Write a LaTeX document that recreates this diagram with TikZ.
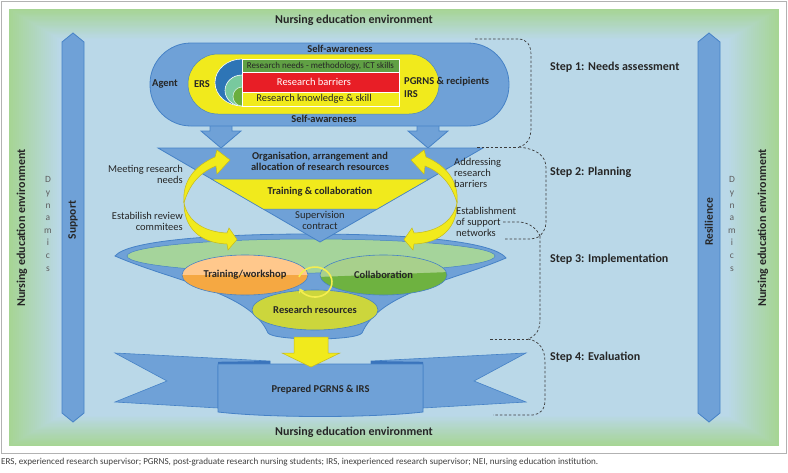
\documentclass[tikz,border=0pt]{standalone}
\usepackage{fontspec}
\setmainfont{Carlito}
\usetikzlibrary{arrows.meta}
\definecolor{bgG}{RGB}{166,213,148}
\definecolor{bgB}{RGB}{186,216,232}
\definecolor{midB}{RGB}{111,161,215}
\definecolor{edgeB}{RGB}{70,130,198}
\definecolor{darkB}{RGB}{58,116,188}
\definecolor{yel}{RGB}{241,234,28}
\definecolor{yelE}{RGB}{196,186,30}
\definecolor{cycY}{RGB}{244,238,80}
\definecolor{ersB}{RGB}{46,117,182}
\definecolor{mint}{RGB}{120,201,158}
\definecolor{dgreen}{RGB}{106,174,62}
\definecolor{barG}{RGB}{96,160,68}
\definecolor{barR}{RGB}{232,30,38}
\definecolor{funG}{RGB}{165,212,155}
\definecolor{orL}{RGB}{255,200,140}
\definecolor{orD}{RGB}{245,168,66}
\definecolor{grL}{RGB}{168,208,140}
\definecolor{grD}{RGB}{110,178,64}
\definecolor{resY}{RGB}{204,214,60}
\definecolor{txt}{RGB}{38,38,38}
\definecolor{dynG}{RGB}{95,95,95}
\definecolor{dashC}{RGB}{60,60,60}
\begin{document}
\begin{tikzpicture}[x=1pt,y=-1pt,
 blue shape/.style={fill=midB,draw=edgeB,line width=0.8pt},
 yarrow/.style={fill=yel,draw=yelE,line width=0.5pt},
 lbl/.style={text=txt,font=\fontsize{10.5}{11}\selectfont,inner sep=0pt},
 blbl/.style={text=txt,font=\bfseries\fontsize{10.5}{11.5}\selectfont,inner sep=0pt},
 sidelbl/.style={text=txt,font=\bfseries\fontsize{11.5}{13}\selectfont,inner sep=0pt,rotate=90},
 steplbl/.style={text=txt,font=\bfseries\fontsize{12}{14}\selectfont,anchor=west,inner sep=0pt},
 envlbl/.style={text=txt,font=\bfseries\fontsize{12}{14}\selectfont,inner sep=0pt},
 brace/.style={draw=dashC,line width=0.7pt,dash pattern=on 2.5pt off 2pt},
 dyn/.style={text=dynG,font=\fontsize{9.5}{12.6}\selectfont,align=center,inner sep=0pt},
]
\useasboundingbox (0,0) rectangle (788,472);
\fill[white] (0,0) rectangle (788,472);
\draw[gray!60,line width=0.8pt] (1,1) rectangle (786,453);
% background gradient
\foreach \i in {0,...,25}{
  \pgfmathsetmacro\L{9+\i*2.0}
  \pgfmathsetmacro\T{9+\i*1.2}
  \pgfmathsetmacro\R{779-\i*2.0}
  \pgfmathsetmacro\B{446-\i*1.2}
  \pgfmathtruncatemacro\P{100-\i*4}
  \fill[bgG!\P!bgB] (\L,\T) rectangle (\R,\B);
}
% environment labels
\node[envlbl] (envT) at (354,20) {Nursing education environment};
\node[envlbl] (envB) at (354,432) {Nursing education environment};
\node[envlbl,rotate=90] (envL) at (22,228) {Nursing education environment};
\node[envlbl,rotate=90] (envR) at (763,228) {Nursing education environment};
% side double arrows
\filldraw[blue shape] (62,42) -- (73,33) -- (84,42) -- (84,413) -- (73,422) -- (62,413) -- cycle;
\filldraw[blue shape] (698,42) -- (709,33) -- (720,42) -- (720,413) -- (709,422) -- (698,413) -- cycle;
\node[sidelbl] (sup) at (73,220) {Support};
\node[sidelbl] (res) at (709,222) {Resilience};
\node[dyn] (dynL) at (48,224) {D\\y\\n\\a\\m\\i\\c\\s};
\node[dyn] (dynR) at (732,224) {D\\y\\n\\a\\m\\i\\c\\s};
% down arrows from agent oval
\filldraw[blue shape] (210,118) -- (232,118) -- (232,131) -- (241,131) -- (221,148) -- (201,131) -- (210,131) -- cycle;
\filldraw[blue shape] (417,118) -- (439,118) -- (439,131) -- (448,131) -- (428,148) -- (408,131) -- (417,131) -- cycle;
% agent oval
\filldraw[blue shape,rounded corners=41pt] (150,43) rectangle (509,126);
\filldraw[fill=yel,draw=edgeB,line width=0.5pt,rounded corners=30pt] (188,54) rectangle (439,114);
\begin{scope}
  \clip (180,50) rectangle (242,110);
  \filldraw[fill=ersB,draw=white,line width=0.6pt] (242,82.5) ellipse[x radius=27,y radius=23.5];
  \filldraw[fill=mint,draw=white,line width=0.6pt] (242,90.5) ellipse[x radius=17,y radius=15.5];
  \filldraw[fill=dgreen,draw=white!70!mint,line width=0.6pt] (242,96.5) ellipse[x radius=9,y radius=9.5];
\end{scope}
\fill[barG] (242,59) rectangle (399,72.3);
\fill[barR] (242,72.3) rectangle (399,92.3);
\draw[white,line width=0.8pt] (242,59) rectangle (399,106) (242,72.3) -- (399,72.3) (242,92.3) -- (399,92.3);
\node[text=txt,font=\fontsize{9}{10}\selectfont,inner sep=0pt] (rn) at (320.5,65.8) {Research needs - methodology, ICT skills};
\node[text=white,font=\fontsize{10.5}{11}\selectfont,inner sep=0pt] (rb) at (314,82.3) {Research barriers};
\node[lbl] (rk) at (314,99.2) {Research knowledge \& skill};
\node[blbl] (sa1) at (340,49) {Self-awareness};
\node[blbl] (sa2) at (324,119) {Self-awareness};
\node[blbl] (agent) at (165,84) {Agent};
\node[blbl] (ers) at (202,84) {ERS};
\node[blbl,anchor=west] (pg) at (404,82) {PGRNS \& recipients};
\node[blbl,anchor=west] (irs) at (404,94) {IRS};
% funnel
\filldraw[blue shape] (115,256) .. controls (128,240) and (220,234) .. (310,234) .. controls (400,234) and (492,240) .. (506,258) .. controls (450,282) and (380,292) .. (362,333) .. controls (356,341) and (274,341) .. (268,333) .. controls (250,292) and (175,282) .. (115,256) -- cycle;
\filldraw[fill=funG,draw=edgeB,line width=0.5pt] (311,256) ellipse[x radius=184,y radius=17];
\begin{scope}
  \clip (245,275) ellipse[x radius=63,y radius=20];
  \fill[orL] (180,250) rectangle (310,300);
  \fill[orD] (180,275) rectangle (310,300);
\end{scope}
\draw[edgeB,line width=0.6pt] (245,275) ellipse[x radius=63,y radius=20];
\begin{scope}
  \clip (383.5,275) ellipse[x radius=63.5,y radius=20];
  \fill[grL] (318,250) rectangle (450,300);
  \fill[grD] (318,277) -- (450,272) -- (450,300) -- (318,300) -- cycle;
\end{scope}
\draw[edgeB,line width=0.6pt] (383.5,275) ellipse[x radius=63.5,y radius=20];
\filldraw[fill=resY,draw=edgeB,line width=0.6pt] (315,310) ellipse[x radius=63,y radius=20];
\draw[cycY,line width=1.6pt,-{Stealth[length=4.5pt,width=6pt]}] (299,276.9) arc[start angle=200,end angle=515,x radius=17,y radius=15];
\node[blbl] (tw) at (245,275) {Training/workshop};
\node[blbl] (col) at (383.5,275) {Collaboration};
\node[blbl] (rr) at (315,310) {Research resources};
% planning triangle
\filldraw[blue shape] (158,148) -- (483,148) -- (320,242) -- cycle;
\filldraw[fill=yel,draw=edgeB,line width=0.5pt] (211.4,179) -- (429.2,179) -- (377.2,209) -- (263.1,209) -- cycle;
\node[blbl,align=center] (org) at (320,161.5) {Organisation, arrangement and\\allocation of research resources};
\node[blbl] (tc) at (320,192) {Training \& collaboration};
\node[lbl,align=center] (sc) at (320,220.5) {Supervision\\contract};
% curved yellow arrows
\foreach \s/\o in {1/0,-1/641}{
  \begin{scope}[shift={(\o,0)},xscale=\s]
    \filldraw[yarrow] (184,203) .. controls (182,182) and (194,166) .. (215,157) -- (217,150) -- (230,160) -- (217,174) -- (216,166) .. controls (200,172) and (189,185) .. (184,203) -- cycle;
    \filldraw[yarrow] (184,203) .. controls (184,228) and (200,243) .. (227,244) -- (228,250) -- (237,239.5) -- (229,228) -- (227,233) .. controls (205,232) and (188,222) .. (184,203) -- cycle;
  \end{scope}
}
% side labels
\node[lbl,align=right,anchor=east] (mrn) at (183,174) {Meeting research\\needs};
\node[lbl,align=right,anchor=east] (erc) at (183,221) {Estabilish review\\commitees};
\node[lbl,align=left,anchor=west] (arb) at (454,173) {Addressing\\research\\barriers};
\node[lbl,align=left,anchor=west] (esn) at (456,221.5) {Establishment\\of support\\networks};
% ribbon
\foreach \s/\o in {1/0,-1/641}{
  \begin{scope}[shift={(\o,0)},xscale=\s]
    \filldraw[fill=midB,draw=edgeB,line width=0.6pt] (115,353) -- (270,361) -- (270,366) -- (218,366) -- (218,408) -- (115,402) -- (167,381) -- cycle;
    \fill[darkB] (218,361.8) -- (270,361) -- (270,366) -- (218,366) -- cycle;
  \end{scope}
}
\filldraw[blue shape] (218,364) -- (423,364) -- (423,412) .. controls (370,418) and (270,418) .. (218,412) -- cycle;
\node[blbl] (prep) at (320.5,390) {Prepared PGRNS \& IRS};
\filldraw[yarrow] (294,337) -- (328,337) -- (328,353) -- (340,353) -- (311,367) -- (282,353) -- (294,353) -- cycle;
% step braces
\draw[brace] (475,39) -- (518,39) .. controls (527,39) and (531,45) .. (531,55) -- (531,128) .. controls (531,140) and (526,145) .. (519,147);
\draw[brace] (477,147) -- (519,147);
\draw[brace] (519,147) .. controls (536,149) and (546,155) .. (546,168) -- (546,222) .. controls (546,229) and (543,232) .. (540,236);
\draw[brace] (503,222) -- (520,222) .. controls (530,223) and (537,229) .. (540,236);
\draw[brace] (505,239) -- (528,239) .. controls (533,239) and (537,238) .. (540,236);
\draw[brace] (540,236) .. controls (540,240) and (540,245) .. (540,252) -- (540,320) .. controls (540,330) and (536,336) .. (528,339);
\draw[brace] (490,339) -- (528,339);
\draw[brace] (528,339) .. controls (540,341) and (545,350) .. (545,362) -- (545,400) .. controls (545,410) and (540,414) .. (533,415) -- (493,415);
\node[steplbl] (s1) at (550,67) {Step 1: Needs assessment};
\node[steplbl] (s2) at (550,172) {Step 2: Planning};
\node[steplbl] (s3) at (550,259) {Step 3: Implementation};
\node[steplbl] (s4) at (550,357) {Step 4: Evaluation};
% caption
\node[anchor=west,text=black!75,font=\fontsize{9.1}{10}\selectfont,inner sep=0pt] (cap) at (1,462.5) {ERS, experienced research supervisor; PGRNS, post-graduate research nursing students; IRS, inexperienced research supervisor; NEI, nursing education institution.};
\end{tikzpicture}
\end{document}
